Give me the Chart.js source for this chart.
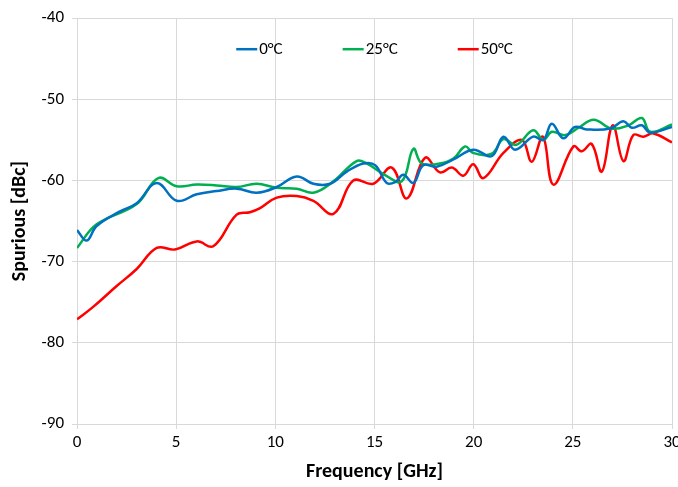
<!DOCTYPE html>
<html><head><meta charset="utf-8">
<script src="https://cdn.jsdelivr.net/npm/chart.js@4/dist/chart.umd.min.js"></script>
<style>html,body{margin:0;padding:0;background:#fff}#wrap{width:678px;height:487px}</style>
</head><body><div id="wrap"><canvas id="c" width="678" height="487"></canvas></div>
<script>
const seriesLabels = ['0°C', '25°C', '50°C'];
const seriesColors = ['#0070C0', '#00B050', '#FF0000'];
const xTicks = [0, 5, 10, 15, 20, 25, 30];
const yTicks = [-90, -80, -70, -60, -50, -40];

const freq0 = [0, 0.49, 0.99, 2.17, 3.01, 4.02, 5.03, 6.04, 7.04, 8.05, 9.06, 10.07, 11.08, 11.92, 12.76, 13.6, 14.44, 15.03, 15.62, 16.04, 16.45, 16.96, 17.46, 18.14, 18.98, 19.98, 20.91, 21.5, 22.09, 23.0, 23.51, 23.94, 24.52, 25.11, 25.7, 26.88, 27.55, 27.97, 28.48, 28.9, 30];
const vals0 = [-66.1, -67.4, -65.6, -63.8, -62.8, -60.3, -62.5, -61.7, -61.3, -61.0, -61.5, -60.8, -59.5, -60.4, -60.4, -58.9, -57.9, -58.1, -60.3, -60.2, -59.3, -60.3, -58.1, -58.3, -57.4, -56.2, -57.0, -54.6, -56.2, -54.6, -55.0, -53.0, -54.8, -53.4, -53.7, -53.6, -52.7, -53.5, -53.2, -54.1, -53.4];

const freq25 = [0, 0.99, 3.01, 4.1, 5.03, 6.04, 7.04, 8.05, 9.06, 10.07, 11.08, 11.92, 12.93, 14.1, 14.6, 15.45, 16.37, 16.96, 17.38, 18.3, 18.98, 19.57, 19.98, 20.91, 21.5, 22.15, 23.0, 23.51, 23.94, 24.62, 25.29, 26.05, 26.96, 27.8, 28.48, 28.9, 30];
const vals25 = [-68.3, -65.4, -62.9, -59.7, -60.7, -60.5, -60.6, -60.8, -60.4, -60.9, -61.0, -61.5, -60.1, -57.6, -57.9, -59.2, -60.1, -56.1, -57.9, -57.9, -57.3, -55.8, -56.6, -56.7, -54.9, -55.6, -53.8, -55.0, -54.0, -54.4, -53.5, -52.5, -53.6, -53.2, -52.3, -54.0, -53.1];

const freq50 = [0, 0.8, 2.0, 3.01, 4.02, 4.94, 6.04, 6.87, 8.05, 8.72, 9.23, 10.07, 11.08, 11.92, 12.93, 13.93, 14.94, 15.87, 16.63, 17.55, 18.3, 18.9, 19.48, 19.98, 20.49, 21.5, 22.43, 22.93, 23.49, 24.02, 25.03, 25.45, 25.95, 26.46, 27.01, 27.55, 28.05, 28.56, 29.06, 30];
const vals50 = [-77.1, -75.6, -73.0, -70.9, -68.3, -68.5, -67.5, -68.1, -64.2, -63.9, -63.4, -62.1, -61.9, -62.5, -64.1, -60.0, -60.4, -58.4, -62.2, -57.2, -59.0, -58.4, -59.4, -58.0, -59.7, -56.6, -55.0, -57.7, -54.6, -60.5, -55.8, -56.4, -55.5, -58.9, -53.2, -57.6, -54.4, -54.6, -54.2, -55.3];

const FONT = "Carlito, 'Liberation Sans Narrow', 'Open Sans', sans-serif";
const toPts = (xs, ys) => xs.map((x, i) => ({x: x, y: ys[i]}));

const legendPlugin = {
  id: 'inlineLegend',
  afterDraw(chart) {
    const ctx = chart.ctx, ca = chart.chartArea;
    ctx.save();
    ctx.font = '17px ' + FONT;
    ctx.textBaseline = 'middle';
    const lineW = 21, gapT = 2, gapItem = 60;
    const ds = chart.data.datasets;
    const widths = ds.map(d => lineW + gapT + ctx.measureText(d.label).width);
    const total = widths.reduce((a, b) => a + b, 0) + gapItem * (ds.length - 1);
    let x = (ca.left + ca.right) / 2 - total / 2;
    const y = ca.top + 31;
    ds.forEach((d, i) => {
      ctx.strokeStyle = d.borderColor; ctx.lineWidth = 2.5;
      ctx.beginPath(); ctx.moveTo(x, y); ctx.lineTo(x + lineW, y); ctx.stroke();
      ctx.fillStyle = '#000';
      ctx.fillText(d.label, x + lineW + gapT, y + 1);
      x += widths[i] + gapItem;
    });
    ctx.restore();
  }
};

new Chart(document.getElementById('c'), {
  type: 'line',
  data: {
    datasets: [
      {label: seriesLabels[0], data: toPts(freq0, vals0), borderColor: seriesColors[0]},
      {label: seriesLabels[1], data: toPts(freq25, vals25), borderColor: seriesColors[1]},
      {label: seriesLabels[2], data: toPts(freq50, vals50), borderColor: seriesColors[2]}
    ].map(d => Object.assign(d, {borderWidth: 2.5, pointRadius: 0, tension: 0.4, fill: false}))
  },
  options: {
    responsive: false,
    animation: false,
    layout: {padding: {top: 16, right: 6, left: 0, bottom: 0}},
    plugins: {legend: {display: false}, tooltip: {enabled: false}},
    scales: {
      x: {
        type: 'linear', min: 0, max: 30,
        afterBuildTicks: s => { s.ticks = xTicks.map(v => ({value: v})); },
        afterFit: s => { s.height = 63; s.paddingLeft = 0; s.paddingRight = 0; },
        grid: {color: '#d9d9d9', lineWidth: 1, tickLength: 5, drawTicks: true},
        border: {color: '#d9d9d9'},
        ticks: {color: '#000', font: {family: FONT, size: 17}, padding: 4, maxRotation: 0},
        title: {display: true, text: 'Frequency [GHz]', color: '#000', font: {family: FONT, size: 20, weight: 'bold'}, padding: {top: 0, bottom: 3}}
      },
      y: {
        type: 'linear', min: -90, max: -40,
        afterBuildTicks: s => { s.ticks = yTicks.map(v => ({value: v})); },
        afterFit: s => { s.width = 77; },
        grid: {color: '#d9d9d9', lineWidth: 1, tickLength: 5},
        border: {color: '#d9d9d9'},
        ticks: {color: '#000', font: {family: FONT, size: 17}, padding: 8},
        title: {display: true, text: 'Spurious [dBc]', color: '#000', font: {family: FONT, size: 20, weight: 'bold'}, padding: {top: 8, bottom: 0}}
      }
    }
  },
  plugins: [legendPlugin]
});
</script></body></html>
